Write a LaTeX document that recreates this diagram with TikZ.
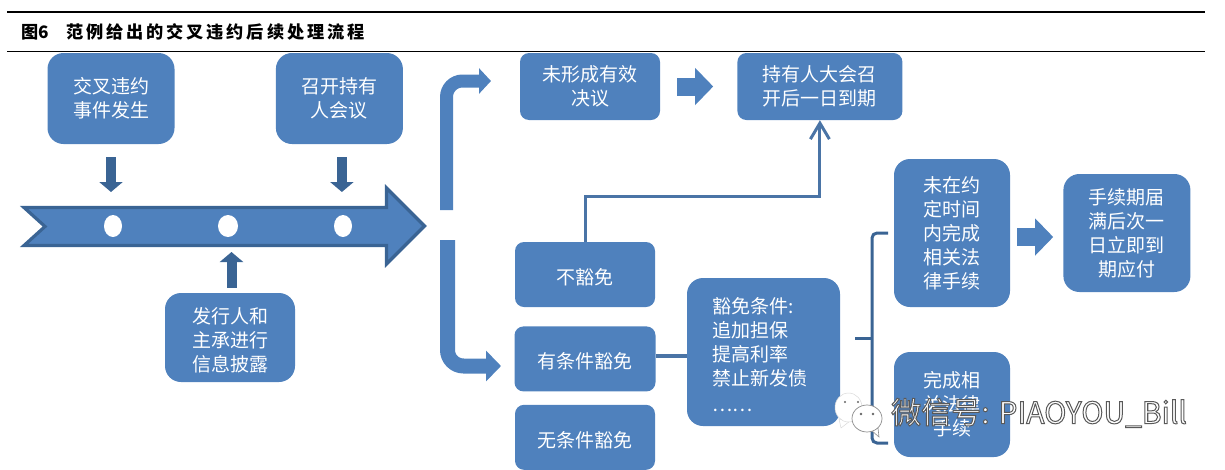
\documentclass[tikz,border=0pt]{standalone}
\usepackage{fontspec}
\setmainfont{Noto Sans CJK SC}
\usepackage{xcolor}
\usetikzlibrary{arrows.meta,positioning,shapes.geometric}
\definecolor{boxblue}{HTML}{4F81BD}
\definecolor{darkblue}{HTML}{3A6494}
\definecolor{linkblue}{HTML}{4A74A6}
\newcommand{\wmark}[1]{\special{pdf:code q 2 Tr 1 w 0.35 G 1 g}#1\special{pdf:code Q}}

\begin{document}
\begin{tikzpicture}[
    x=1pt, y=-1pt,
    box/.style={fill=boxblue, rounded corners=9pt, text=white, align=center, inner sep=0pt,
                font=\fontsize{19}{24}\selectfont},
    big/.style={box, rounded corners=16pt},
    single/.style={text height=21.5pt},
    block/.style={draw=boxblue, line width=18pt, -{Triangle[length=18pt,width=36pt]}},
    bent/.style={draw=boxblue, line width=13pt, rounded corners=16pt,
                 -{Triangle[length=12pt,width=25pt]}},
    tick/.style={draw=darkblue, line width=10pt, -{Triangle[length=10pt,width=23pt]}},
    link/.style={draw=linkblue, line width=3pt},
    hole/.style={ellipse, fill=white, minimum width=18pt, minimum height=22pt, inner sep=0pt},
    bubble/.style={ellipse, fill=white, inner sep=0pt},
    eye/.style={fill=black!60},
  ]
  \useasboundingbox (0,0) rectangle (1225,469);

  \draw[line width=2.6pt] (7,12) -- (1205,12);
  \draw[line width=1pt] (7,51.5) -- (1205,51.5);
  \node[anchor=west, inner sep=0pt, font=\fontsize{17.2}{20}\selectfont\bfseries] (title) at (21,32)
    {图6\hspace{17.5pt}范\,例\,给\,出\,的\,交\,叉\,违\,约\,后\,续\,处\,理\,流\,程};

  \node[big, minimum width=127pt, minimum height=91pt] (event) at (111,98.5) {交叉违约\\事件发生};
  \node[big, minimum width=127pt, minimum height=91pt, right=101pt of event] (meet) {召开持有\\人会议};
  \node[big, minimum width=130pt, minimum height=89pt, text height=70.5pt] (info) at (230,337.5) {发行人和\\主承进行\\信息披露};

  \node[box, minimum width=140pt, minimum height=67pt] (nores) at (590,86.5) {未形成有效\\决议};
  \node[box, minimum width=165pt, minimum height=67pt, right=77pt of nores] (due) {持有人大会召\\开后一日到期};
  \node[box, single, minimum width=140pt, minimum height=65pt] (nowv) at (585,274.5) {不豁免};
  \node[box, single, minimum width=141pt, minimum height=65pt, below=19pt of nowv] (condwv) {有条件豁免};
  \node[box, single, minimum width=140pt, minimum height=65pt, below=13pt of condwv] (freewv) {无条件豁免};
  \node[big, minimum width=153pt, minimum height=148pt, align=left, text width=103pt, text height=22pt] (terms) at (763.5,352)
    {豁免条件:\\追加担保\\提高利率\\禁止新发债\\[2pt]……};
  \node[big, minimum width=116pt, minimum height=148pt] (late) at (952,233) {未在约\\定时间\\内完成\\相关法\\律手续};
  \node[big, minimum width=127pt, minimum height=118pt, right=53pt of late] (pay) {手续期届\\满后次一\\日立即到\\期应付};
  \node[big, minimum width=116pt, minimum height=105pt] (done) at (952,404.5) {完成相\\关法律\\手续};

  \draw[draw=darkblue, fill=boxblue, line width=3.2pt, miter limit=10]
    (24,207.5) -- (386.5,207.5) -- (386.5,188) -- (424.5,226) -- (386.5,264) -- (386.5,245.5)
    -- (24,245.5) -- (45,226.5) -- cycle;
  \node[hole] (mark1) at (113,226) {};
  \node[hole, minimum width=20pt] (mark2) at (228,226) {};
  \node[hole] (mark3) at (343,226) {};
  \coordinate (linetop) at (0,206);
  \coordinate (linebot) at (0,247);

  \draw[tick, shorten <=13pt, shorten >=14pt] (event.south) -- (event.south |- linetop);
  \draw[tick, shorten <=13pt, shorten >=14pt] ([xshift=2.5pt]meet.south) -- ([xshift=2.5pt]meet.south |- linetop);
  \draw[tick, shorten <=5pt, shorten >=5pt] ([xshift=1.5pt]info.north) -- ([xshift=1.5pt]info.north |- linebot);

  \coordinate (upstart) at (446.5,210);
  \coordinate (upend) at (491,81);
  \coordinate (downstart) at (447.5,240);
  \coordinate (downend) at (501,366);
  \draw[bent] (upstart) |- (upend);
  \draw[bent, line width=15pt, -{Triangle[length=15pt,width=30pt]}] (downstart) |- (downend);

  \draw[block, shorten <=17pt, shorten >=24pt] (nores) -- (due);
  \draw[block, shorten <=7pt, shorten >=10pt] ([yshift=-4pt]late.east) -- ([yshift=-4pt]pay.west);
  \draw[link, -{Straight Barb[length=16pt,width=19pt]}] (nowv.north) -- ++(0,-45) -| (due.south);
  \draw[link, line width=4pt] ([yshift=2.5pt]condwv.east) -- ([yshift=2.5pt]condwv.east -| terms.west);

  \coordinate (bracetop) at (888,233);
  \coordinate (bracebot) at (888,443);
  \coordinate (bracemid) at (855,338);
  \draw[link, draw=darkblue, rounded corners=5pt] (bracetop) -- (872,233) -- (872,443) -- (bracebot);
  \draw[link, draw=darkblue] (bracemid) -- (872,338);

  % watermark
  \filldraw[fill=white, draw=black!15, line width=0.5pt] (839,419) -- (841,428) -- (850,421) -- cycle;
  \node[bubble, draw=black!15, line width=0.5pt, minimum width=27pt, minimum height=29pt] (chat1) at (848.5,407.5) {};
  \fill[eye] (845,402) circle (1.2pt) (858,402) circle (1.2pt);
  \filldraw[fill=white, draw=black!45, line width=0.6pt] (871,430) -- (879,437) -- (878,428) -- cycle;
  \node[bubble, draw=black!45, line width=0.7pt, minimum width=30pt, minimum height=27pt] (chat2) at (867,418.5) {};
  \fill[eye] (861,414) circle (1.3pt) (873,414) circle (1.3pt);
  \node[anchor=west, inner sep=0pt, font=\fontsize{30}{32}\selectfont] (wmtext) at (891,413)
    {\wmark{微信号: PIAOYOU\_Bill}};
\end{tikzpicture}
\end{document}
